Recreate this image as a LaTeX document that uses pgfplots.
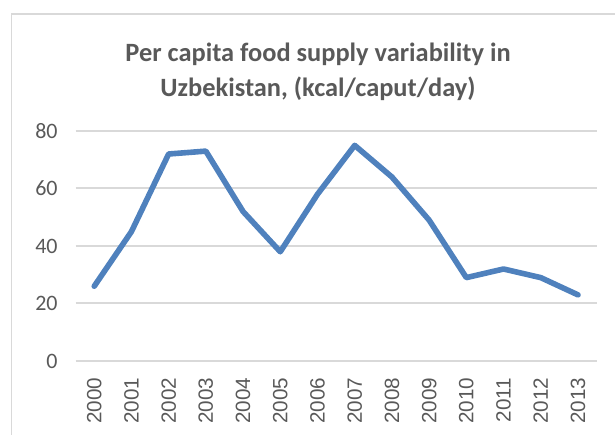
\documentclass[border=0pt]{standalone}
\usepackage{fontspec}
\setmainfont{Carlito}
\newfontfamily\xfont{Liberation Sans}
\usepackage{pgfplots}
\pgfplotsset{compat=1.18}
\definecolor{linecol}{HTML}{4F81BD}
\definecolor{txt}{HTML}{595959}
\definecolor{gridc}{HTML}{D9D9D9}

\pgfplotstableread{
year val
0 26
1 45
2 72
3 73
4 52
5 38
6 58
7 75
8 64
9 49
10 29
11 32
12 29
13 23
}\foodvar

\begin{document}
\begin{tikzpicture}
% page = 615 x 435 px, 1px = 0.75pt
\path[use as bounding box] (0,0) rectangle (461.25pt,326.25pt);
\draw[gridc, line width=0.8pt] (8.6pt,0) -- (8.6pt,315.75pt) -- (461.25pt,315.75pt);
\node[txt, font=\fontsize{19.8}{25.8}\selectfont\bfseries, align=center]
  at (238.5pt,272.5pt) {Per capita food supply variability in\\Uzbekistan, (kcal/caput/day)};
\begin{axis}[
    at={(56.7pt,55.5pt)}, anchor=south west,
    scale only axis,
    width=390.75pt, height=172.5pt,
    xmin=-0.5, xmax=13.5,
    ymin=0, ymax=80,
    ytick={0,20,...,80},
    xtick={0,...,13},
    xticklabels={2000,2001,2002,2003,2004,2005,2006,2007,2008,2009,2010,2011,2012,2013},
    axis line style={draw=none},
    major tick length=0pt,
    ymajorgrids,
    grid style={gridc, line width=1.5pt},
    y tick label style={txt, font=\fontsize{16.5}{18}\selectfont, xshift=-10pt},
    x tick label style={txt, font=\xfont\fontsize{15.5}{17}\selectfont, rotate=90, anchor=east, xshift=-9pt},
    /pgf/number format/assume math mode=true,
    clip=false,
]
\addplot[linecol, line width=4.2pt, line join=round, line cap=round] table[x=year, y=val] {\foodvar};
\end{axis}
\end{tikzpicture}
\end{document}
